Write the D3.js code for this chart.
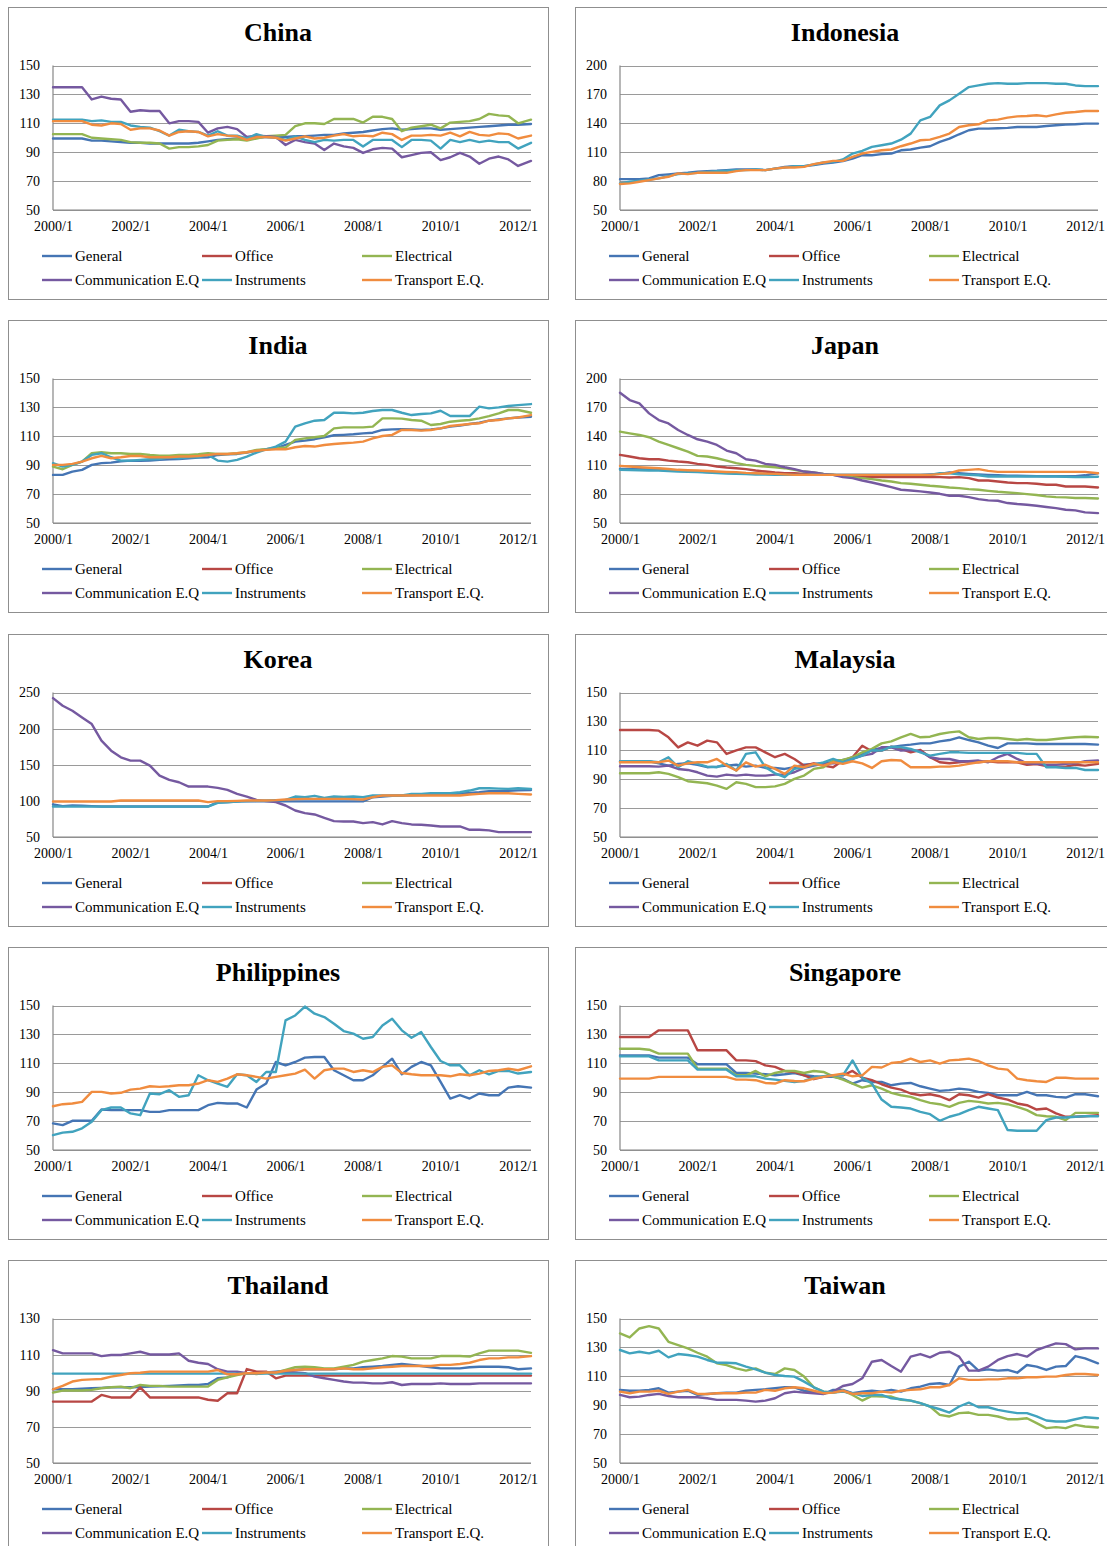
<!DOCTYPE html>
<html>
<head>
<meta charset="utf-8">
<script src="https://cdn.jsdelivr.net/npm/d3@7"></script>
<style>
  body { margin: 0; background: #fff; }
  svg { display: block; }
</style>
</head>
<body>
<svg id="chart" width="1107" height="1546"></svg>
<script>
// Series legend names and colours (same order in every panel)
const seriesNames = ["General", "Office", "Electrical", "Communication E.Q", "Instruments", "Transport E.Q."];
const seriesColors = ["#4575B4", "#B84744", "#93B552", "#7559A0", "#41A3BE", "#F08C3F"];

// Month index since 2000/1 for each sampled value (quarterly, last one 2012/5)
const sampleMonths = d3.range(0, 145, 3).concat([148]);
const tickMonths = [0, 24, 48, 72, 96, 120, 144];
const tickLabels = ["2000/1", "2002/1", "2004/1", "2006/1", "2008/1", "2010/1", "2012/1"];

// Y tick values
const ticks50to150 = [50, 70, 90, 110, 130, 150];
const ticks50to200 = [50, 80, 110, 140, 170, 200];
const ticks50to250 = [50, 100, 150, 200, 250];
const ticks50to130 = [50, 70, 90, 110, 130];

// ---- China ----
const chinaGeneral = [99.5,99.5,99.5,99.5,98,98,97.5,97,96.5,96.5,96,96,96,96,96,96.5,97.5,98.5,99,99.5,100,100,100.5,100.5,100.5,101,101,101.5,102,102,103,103.5,104,105,106,106.5,105.5,106,106.5,106.5,105.5,106,106.5,107,107.5,108,108.5,109,109,109.5];
const chinaElectrical = [102.5,102.5,102.5,102.5,100,99.5,99,98.5,97,96.5,96.5,96,92.5,93.5,93.5,94,95,98,98.5,99,98,99.5,101,101.5,102,108,110,110,109.5,113,113,113,110.5,114.5,114.5,113,104.5,107,108,109,106.5,110.5,111,111.5,113,116.5,115.5,115,110,112.5];
const chinaComm = [135,135,135,135,126.5,128.5,127,126.5,118,119,118.5,118.5,110,111.5,111.5,111,103.5,106.5,107.5,106,100.5,101.5,101,100.5,95,98.5,97,96,91.5,96,94,93,89.5,92,93,92.5,86.5,88,89.5,90,84.5,86.5,89.5,87,82,85.5,87,85,80.5,84];
const chinaInstr = [112.5,112.5,112.5,112.5,111.5,112,111,111,108.5,107.5,107,104.5,101.5,105.5,104.5,104,101.5,104.5,101.5,101.5,99.5,102.5,100.5,100,98.5,101,98.5,97,98.5,98,98.5,98.5,94,98.5,98.5,98.5,93.5,98.5,98.5,98,92.5,98.5,97,98.5,97,98,97,97,92.5,96.5];
const chinaTransport = [111.5,111.5,111.5,111.5,109,108.5,110,109.5,105.5,106.5,106.5,105,101.5,104,104.5,104,101,102.5,101.5,101,98.5,100.5,100.5,100,98,99.5,101,99.5,100,101.5,102.5,101,101.5,101,103.5,102.5,98.5,101.5,101.5,102,101.5,103.5,101,104,102,101.5,103,102.5,99.5,101.5];

// ---- Indonesia ----
const indoGeneral = [82,82,82,82.8,86.2,87,88,88.6,89.7,90.4,90.7,91.4,92,92,92,91.4,93,94.8,95.5,95.5,96.6,98.3,99.3,100.7,103.4,106.9,106.9,108,108.6,112,112.8,114.8,116.2,120.7,124,128.6,132.8,134.5,134.5,134.8,135.2,136.2,136.2,136.2,137.2,138,138.6,139,139.7,139.7];
const indoInstr = [77.6,79.3,80.3,81.7,82.8,85.2,87.2,88,88.6,89.5,90.4,90.7,91.4,91.4,92,91.4,93,94,95.5,95.5,97.2,99.3,100,102.4,108.6,111.4,115.5,117.2,119,123,129.3,143,146.6,158.6,163.8,170.7,177.6,179.3,181,181.7,181,181,181.7,181.7,181.7,181,181,179.3,178.6,178.6];
const indoTransport = [77,77.6,79.3,81,82.8,84.5,88,87.2,88.6,88.6,88.6,88.6,90.4,91.4,91.4,91.4,93,94.1,94.1,94.8,97.6,99.3,101,101,105.2,108.6,110.3,112,112.8,116.2,119,122.4,123,125.9,129.3,136.2,138,139,143,143.8,145.9,147.2,147.6,148.3,147.2,149.3,151,151.7,152.8,152.8];

// ---- India ----
const indiaGeneral = [83.3,83.3,85.6,86.8,90.2,91.4,91.8,92.7,93.2,93,93.2,93.7,94.1,94.3,94.8,95.3,95.5,97.1,97.6,97.8,98.7,100,101,101.7,104,106.3,107,108,109.3,110.7,111,111.4,112,112.5,114.4,114.8,115,114.8,114.4,114.8,115.5,116.7,117.4,118.5,119.4,120.8,121.7,122.4,123,123.5];
const indiaElectrical = [89,87.2,90.2,92.5,98.3,99,98.3,98.3,97.8,97.8,97.1,96.6,96.6,97.1,97.1,97.6,98.3,97.8,97.8,98.3,99,100.6,101,101.7,102.2,107.5,108.6,109.3,110.2,115.5,116.2,116.2,116.2,116.7,122.4,122.4,122.2,121.3,120.8,117.8,118.5,120.1,120.8,121.3,122.4,124,125.9,128.2,128.2,126.3];
const indiaInstr = [91.4,89,90.2,92.5,97.1,98.3,95.5,93.2,93.2,93.7,94.1,94.3,95.5,94.8,95.5,95.5,97.1,93.2,92.5,93.7,96,98.7,101,102.9,106.3,116.7,119,120.8,121.3,126.3,126.3,125.9,126.3,127.5,128.2,128.2,126.3,124.7,125.4,125.9,127.7,124,124,124,130.5,129.3,130,131,131.6,132.3];
const indiaTransport = [90.2,90.2,90.9,92.5,94.8,96.4,94.8,95.5,96.4,96.4,95.5,95.5,95.5,96,96,96.4,97.1,97.8,97.8,98.3,99,100,100.6,101,101,102.4,103.3,102.9,104,104.7,105.2,105.6,106.3,108.6,110.2,111,114.4,114.4,113.9,114.4,115.5,117.1,117.8,118.5,119,120.8,121.3,122.4,123,124.7];

// ---- Japan ----
const japanGeneral = [106.2,106,105.9,105.5,105.2,104.8,104.3,103.8,103.4,103,102.5,102,101.7,101.5,101.2,101,101,100.6,100.3,100,100,100,100,100,100,100,100,100,100,100,100,100,100.5,101,102.4,101.7,101,100.5,100,99.5,99,99,98.8,98.7,98.5,98.5,98.5,98.5,99.5,101.7];
const japanOffice = [120.7,119,117.2,116.2,116.2,114.8,113.8,113.1,111.4,110.3,108.6,107.6,106.9,105.9,104.5,103.4,102.4,101.7,101.7,101,100.7,100,100,99,98.3,98.3,97.6,97.6,97.6,97.6,97.6,97.6,97.6,97.6,97.2,97.6,96.6,94.1,94.1,93.1,92,91.4,91.4,90.7,89.7,89.7,87.9,87.9,87.9,86.9];
const japanElectrical = [144.8,143.1,141.4,139,134.5,131,127.6,124.1,119.7,119,117.2,114.8,112.1,110.3,109.3,108.6,107.9,106.9,105.2,103.4,102.4,101,100,99,97.6,96.6,95.5,94.1,93.1,91.4,90.7,89.7,88.6,87.9,86.9,86.2,85.2,84.5,83.4,82.4,81.7,81,80,79,77.6,76.9,76.6,75.9,75.9,75.5];
const japanComm = [185.2,177.6,174.1,163.8,156.9,153.4,146.6,141.4,136.9,134.5,131,125.2,122.4,116.2,114.8,111.4,110.3,107.9,105.9,103.4,102.4,101,100,97.6,96.6,94.1,92,89.7,87.2,84.5,83.8,82.8,81.7,80.3,78.3,78.3,76.9,74.8,73.5,73.1,70.7,69.7,69,67.9,66.6,65.5,63.8,63.1,61,60.3];
const japanInstr = [105.2,105,104.8,104.5,104.5,104,103.5,103.2,102.8,102.3,101.8,101.4,101,100.7,100.4,100.2,100,100,100,100,100,100,100,100,100,100,100,100,100,100,100,100,100,101.7,101.7,100.5,100,99.5,98.3,98.3,98.3,98.3,98.3,98.3,98.3,98.3,98,97.6,97.6,98];
const japanTransport = [109.3,108.6,107.9,107.4,106.9,106,105.2,104.8,104.5,104,103.4,103,102.8,102,101.7,101.3,101,100.5,100,100,100,100,100,100,100,100,100,100,100,100,100,100,100,100.7,101.7,104.5,105.2,105.9,104.1,103.1,103.1,103.1,103.1,103.1,103.1,103.1,103.1,103.1,103.1,101.7];

// ---- Korea ----
const koreaGeneral = [95,92.7,93.6,93.2,92.7,92.2,92.2,92.2,92.2,92.2,92.2,92.2,92.2,92.2,92.2,92.2,92.2,98.2,98.5,99,99.6,99.3,99.3,99.3,99.3,99.3,99.3,99.3,99.3,99.3,99.3,99.3,99.3,105,106,107,107.4,107.8,108.2,108.5,108.8,109.5,110,111,112,113.4,113.4,114,114.5,115];
const koreaComm = [242.2,231.6,224.7,215.5,206.3,183.3,169.5,160.3,155.7,155.7,148.8,135,129,125.8,119.8,119.8,119.8,118,115.2,109.7,106,101.4,99.6,98.2,93.6,86.7,83,81.2,76.6,72,71.5,71.5,69.2,70.6,67.4,72,69.2,67.4,67,66,64.6,64.6,64.6,60,60,59.1,56.8,56.8,56.8,56.8];
const koreaInstr = [92.2,92,92,92,92,92,92,92,92,92,92,92,92,92,92,92,92,97.3,98,99,99.6,100,100.5,101,101.4,106,105,107,104,106,105.5,106,105,107.4,107.4,107.4,107.4,109.7,109.7,110.5,110.5,110.5,112,114.3,117.5,117.5,117,116.6,117.5,116.6];
const koreaTransport = [99.1,99.1,99.1,99.1,99.1,99.1,99.1,100.5,100.5,100.5,100.5,100.5,100.5,100.5,100.5,100.5,98.2,99.6,99.6,100,100.5,100.5,100.5,101,101.9,102.4,102.8,102.8,102.8,102.8,102.8,102.4,101.9,105.1,107.4,107.4,107.4,107.4,107.4,107.4,107.4,107.4,107.4,108.8,109.7,110.5,110.6,110.6,109.7,108.8];

// ---- Malaysia ----
const malayGeneral = [102.4,102.4,102.4,102.4,101,99.4,100.6,101,100,98.3,98.7,99.4,100,98.7,99.4,97.8,97.8,97.1,98.3,100,100.6,101,101.7,103.3,104,107.5,110.2,111.6,112.1,113.2,113.9,114.8,114.8,116.2,117.1,119,117.1,115.5,113.2,111.6,114.8,114.8,114.8,114.4,114.4,114.4,114.4,114.4,114.4,113.9];
const malayOffice = [124,124,124,124,123.6,119,112,115.5,113.2,116.7,115.5,107.5,110,112,112,108.6,105.2,107.5,104,99.4,101,99.4,98.3,102.9,105.2,113.2,109.3,109.8,112.5,111,108.6,110.2,105.2,101.7,101,101.7,102.4,101.7,102.4,101.7,101.7,101.7,100,100.4,99,98.7,98.7,100,99.4,100.6];
const malayElectrical = [94.1,94.1,94.1,94.1,94.8,93.7,91.4,88.6,87.9,87.2,85.6,83.3,87.9,86.8,84.5,84.5,85,86.8,90.2,92.5,97.1,98.3,102.9,103.3,105.2,108.6,111,114.8,116.2,119,121.3,119,119.4,121.3,122.4,123.1,119,117.8,118.5,118.5,117.8,117.1,117.8,117.1,117.1,117.8,118.5,119,119.4,119];
const malayComm = [99,99,99,99,98.7,99.4,97.1,96.4,94.8,92.5,91.8,93.2,92.5,93.2,92.5,92.5,93.2,93.2,94.8,97.8,99.4,100.6,101,101.7,104,106.3,107.5,112.1,112.1,109.8,110.2,109.3,105.2,104,104,102.4,102.4,102.9,101.7,105.2,107.5,104,101,100.6,100,100,100.6,101,102.4,102.9];
const malayInstr = [102.4,102.4,102.4,102.4,101.7,105.2,98.3,102.4,100.6,98.7,98.3,100.6,96,107.5,108.6,98.3,94.1,91.4,97.1,98.3,100,101.7,104,101.7,104,106.3,110,109.8,112.5,112.1,111,108.6,106.3,107.5,108.6,108.6,108.2,108.2,108.2,108.2,108.2,108.2,107.5,107.5,98.3,98.3,97.8,97.8,96.4,96.4];
const malayTransport = [101.7,101.7,101.7,101.7,101.7,102.9,99.4,101,101.7,101.7,104,99.4,96,101.7,98.7,100,97.1,93.7,99.4,98.3,100.6,99.4,101.7,100.6,102.4,101,97.8,102.4,103.3,102.9,98.3,98.3,98.3,98.7,98.7,99.4,100.6,101.7,102.4,102.4,102.4,101.7,101.7,101.7,101.7,101.7,101.7,101.7,101.7,101.7];

// ---- Philippines ----
const philGeneral = [68.4,67.2,70.2,70.2,70.2,78,77.6,77.6,77.6,77.6,76.4,76.4,77.6,77.6,77.6,77.6,81,82.6,82.2,82.2,79.4,91.8,96,110.9,108.6,110.9,113.9,114.4,114.4,105.2,101.7,98.3,98.3,101.7,107.5,113.2,102.4,107.5,110.9,108.6,97.1,85.6,87.9,85.6,89.1,87.9,87.9,93.2,94.1,93.2];
const philInstr = [60.3,62,62.6,65,69.5,77.6,79.4,79.4,75.3,74.1,89.1,88.6,91.4,86.8,87.9,101.7,98.3,96,93.7,102.4,101.7,97.1,104,104,139.7,143.1,149.3,144.3,142,137.4,132.3,130.5,127,128.2,136.2,140.8,132.8,127.7,131.6,121.3,111.6,108.6,108.6,101.7,105.2,102.4,104.7,104.7,102.9,104];
const philTransport = [80.3,81.7,82.2,83.3,90.2,90.2,89.1,89.6,91.8,92.5,94.1,93.7,94.1,94.8,94.8,96,98.3,97.1,99.4,102.4,101.7,100.6,99.4,100.6,101.7,102.9,105.6,99.4,105.2,106.3,106.3,104,105.2,104,107.5,108.6,103.3,102.4,101.7,101.7,101.7,101,102.4,101.7,102.9,104.7,105.2,106.3,105.2,107.9];

// ---- Singapore ----
const singGeneral = [115.5,115.5,115.5,115.5,113.9,113.9,113.9,113.9,109.3,109.3,109.3,109.3,103.3,103.3,102.9,102.4,101.7,102.4,103.3,101.7,101,100.6,100.6,99.4,96,98.3,97.1,97.1,94.8,95.9,96.4,94.1,92.5,90.9,91.4,92.5,91.8,90.2,89.5,87.9,87.9,87.9,90.2,87.9,87.9,86.8,86.3,88.6,88.6,87.2];
const singOffice = [128.2,128.2,128.2,128.2,132.8,132.8,132.8,132.8,119,119,119,119,112,112,111.5,108.6,107.5,104.7,104,101.7,99,100.6,101.7,101.7,104.7,100,98.3,95.5,93.2,91.8,89.1,87.9,88.6,87.2,84.5,88.6,87.9,86.3,88.6,86.3,84.9,82.2,81,78,78.7,75.3,73,73,73.4,74.1];
const singElectrical = [120.1,120.1,120.1,119.4,116.7,116.7,116.7,116.7,106.3,106.3,106.3,106.3,101.7,101.7,104.7,101,103.3,104.7,104.7,103.3,104.7,104,101,98.7,96,93.2,94.8,92.5,89.5,87.9,86.8,84.5,82.6,81.7,79.9,82.6,84,83.3,82.2,82.6,81.7,79.9,77.6,74.1,73.4,73,70.7,75.7,75.7,75.7];
const singInstr = [114.8,114.8,114.8,114.8,112,112,112,112,105.6,105.6,105.6,105.6,101,101,101,99.4,98.7,97.8,97.1,97.8,100,101,101.7,101.7,112,100,96,84.9,79.9,79.4,78.7,76.4,74.8,70.2,73,74.8,77.6,79.9,78.7,77.6,63.8,63.3,63.3,63.3,70.7,72.5,72.5,73,73.4,73.4];
const singTransport = [99.4,99.4,99.4,99.4,100.6,100.6,100.6,100.6,100.6,100.6,100.6,100.6,98.7,98.7,98.3,96.4,96,98.3,97.8,97.6,99.4,100.6,101.7,102.9,101,101.7,107.5,107.1,110.2,110.9,113.2,110.9,112,109.8,112,112.5,113.2,111.6,108.6,106.3,105.6,99.4,98.3,97.6,97.1,100,100,99.4,99.4,99.4];

// ---- Thailand ----
const thaiGeneral = [90.8,90.8,90.8,91.1,91.4,91.6,91.9,91.9,91.9,92.1,92.3,92.5,92.7,92.9,93.2,93.2,93.7,96.9,97.4,99.7,99.7,99.7,100.1,100.6,101.1,101.5,101.9,101.9,101.9,101.9,102.4,102.4,103,103.3,103.7,104.3,104.8,104.3,103.7,103,102.4,102.4,102.4,103,103.3,103.3,103.3,103,101.9,102.4];
const thaiOffice = [84,84,84,84,84,87.7,86.3,86.3,86.3,91.9,86.3,86.3,86.3,86.3,86.3,86.3,85,84.5,88.6,88.6,102,100.6,100.6,96.9,98.4,98.4,98.4,98.4,98.4,98.4,98.4,98.4,98.4,98.4,98.4,98.4,98.4,98.4,98.4,98.4,98.4,98.4,98.4,98.4,98.4,98.4,98.4,98.4,98.4,98.4];
const thaiElectrical = [89,90.1,90.1,90.1,90.5,91.4,91.9,92.3,91.4,93.2,92.7,92.7,92.3,92.3,92.3,92.3,92.3,96,97.4,98.7,99.7,99.3,100,100,101.5,103,103.3,103,102.4,102.4,103.3,104.3,106.1,107,107.9,109.2,108.9,107.9,107.9,107.9,109.2,109.2,109.2,108.9,110.7,112.2,112.2,112.2,112.2,111];
const thaiComm = [112.5,110.7,110.7,110.7,110.7,109.2,109.8,109.8,110.7,111.6,110.1,110.1,110.1,110.7,106.6,105.5,104.8,101.9,100.6,100.6,99.7,99.7,100.1,100.1,100.6,100.1,99.7,97.8,96.9,96,95.1,94.5,94.5,94.1,94.1,94.7,93.2,93.7,93.7,93.7,94.1,93.7,93.7,93.7,94.1,94.1,94.1,94.1,94.1,94.1];
const thaiInstr = [99.5,99.5,99.5,99.5,99.5,99.5,99.5,99.5,99.5,99.5,99.5,99.5,99.5,99.5,99.5,99.5,99.5,99.5,99.5,99.5,99.5,99.5,99.5,99.5,99.5,99.5,99.5,99.5,99.5,99.5,99.5,99.5,99.5,99.5,99.5,99.5,99.5,99.5,99.5,99.5,99.5,99.5,99.5,99.5,99.5,99.5,99.5,99.5,99.5,99.5];
const thaiTransport = [90.8,92.7,95.1,96,96.3,96.5,97.8,98.7,99.7,100,100.6,100.6,100.6,100.6,100.6,100.6,100.6,101.5,99.1,99.1,99.7,99.7,100.1,100.1,101.1,101.5,101.9,101.9,101.9,101.9,102.4,101.9,101.9,102.4,103,103.3,103.7,103.7,103.7,103.7,104.3,104.3,104.8,105.5,107,107.9,107.9,108.5,108.5,109.2];

// ---- Taiwan ----
const taiwanGeneral = [100.6,100,100,100.6,101.7,98.7,99.4,100,97.1,97.8,98.3,98.7,98.7,100,100.6,101,101.7,102.4,102.4,100,99.4,97.8,100.6,100.6,98.3,99.4,100,99.4,100.6,99.4,101.7,102.9,104.7,105.2,104,116.7,120.1,113.9,114.8,113.9,114.4,112.5,117.8,116.7,114.4,116.7,117.1,124,122.4,119];
const taiwanElectrical = [139.7,136.9,143.1,144.7,143.1,133.9,131.6,129.3,126.3,123.6,119,117.8,115.5,113.9,115.5,112.5,111.6,115.5,114.4,109.8,102.4,99.4,98.7,100,97.1,93.2,96.4,96,96,93.7,93.2,91.4,89.1,83.3,82.2,84.5,84.9,83.3,83.3,82.2,80.3,80.3,81,77.6,74.1,74.8,74.1,76.4,75.3,74.6];
const taiwanComm = [97.1,95.5,95.9,97.1,97.8,96.4,95.5,95.5,95.5,94.8,93.7,93.7,93.7,93.2,92.5,93.2,94.8,98.3,99.4,98.7,98.3,97.8,99.4,103.3,104.7,108.6,120.1,121.3,117.1,113.2,123.6,125.4,123.1,126.3,127,123.6,113.9,113.9,116.7,121.3,124,125.4,123.6,128.2,130.5,132.8,132.3,128.6,129.3,129.3];
const taiwanInstr = [128.2,125.9,127,125.9,127.7,123.1,125.4,124.7,123.6,121.3,119.4,119.4,119,116.7,114.8,112.5,110.9,110.2,109.8,106.3,102.4,99.4,98.7,99.4,98.3,96.4,97.1,97.1,94.8,94.1,93.2,91.4,89.1,87.2,84.9,89.1,91.8,88.6,88.6,86.8,85.6,84.5,84.5,82.2,79.4,78.7,78.7,80.3,81.7,81];
const taiwanTransport = [99.4,98.3,99.4,99.4,100,97.8,99.4,100.6,97.8,97.8,98.3,98.3,98.3,98.7,98.7,100.6,100,101.7,102.4,101.7,100,98.3,98.7,100,97.8,98.3,98.3,99.4,98.7,100,100.6,101,102.4,102.4,104,108.6,107.5,107.5,107.9,107.9,108.6,108.6,109.3,109.3,109.8,109.8,110.9,111.6,111.6,110.9];

// Panel table: series slots follow seriesNames; null = no visible line
const panels = [
  { title: "China",       ticks: ticks50to150, series: [chinaGeneral, null, chinaElectrical, chinaComm, chinaInstr, chinaTransport] },
  { title: "Indonesia",   ticks: ticks50to200, series: [indoGeneral, null, null, null, indoInstr, indoTransport] },
  { title: "India",       ticks: ticks50to150, series: [indiaGeneral, null, indiaElectrical, null, indiaInstr, indiaTransport] },
  { title: "Japan",       ticks: ticks50to200, series: [japanGeneral, japanOffice, japanElectrical, japanComm, japanInstr, japanTransport] },
  { title: "Korea",       ticks: ticks50to250, series: [koreaGeneral, null, null, koreaComm, koreaInstr, koreaTransport] },
  { title: "Malaysia",    ticks: ticks50to150, series: [malayGeneral, malayOffice, malayElectrical, malayComm, malayInstr, malayTransport] },
  { title: "Philippines", ticks: ticks50to150, series: [philGeneral, null, null, null, philInstr, philTransport] },
  { title: "Singapore",   ticks: ticks50to150, series: [singGeneral, singOffice, singElectrical, null, singInstr, singTransport] },
  { title: "Thailand",    ticks: ticks50to130, series: [thaiGeneral, thaiOffice, thaiElectrical, thaiComm, thaiInstr, thaiTransport] },
  { title: "Taiwan",      ticks: ticks50to150, series: [taiwanGeneral, null, taiwanElectrical, taiwanComm, taiwanInstr, taiwanTransport] }
];

// ---- layout ----
const FONT = "'Liberation Serif', 'Times New Roman', serif";
const panelW = 540, panelH = 292;
const colX = [8, 575];
const rowY0 = 7, rowStep = 313.3;
const plot = { left: 45, right: 523, top: 58.5, bottom: 203 };
const legendCols = [34, 194, 354];
const legendRows = [249, 273];

const svg = d3.select("#chart");
svg.append("rect").attr("width", 1107).attr("height", 1546).attr("fill", "#fff");

panels.forEach((p, i) => {
  const col = i % 2, row = Math.floor(i / 2);
  const g = svg.append("g")
    .attr("transform", `translate(${colX[col]},${Math.round(rowY0 + row * rowStep)})`);

  // panel frame
  g.append("rect")
    .attr("x", 0.5).attr("y", 0.5)
    .attr("width", panelW).attr("height", panelH)
    .attr("fill", "#fff").attr("stroke", "#8f8f8f").attr("stroke-width", 1);

  // title
  g.append("text")
    .attr("x", panelW / 2).attr("y", 34)
    .attr("text-anchor", "middle")
    .attr("font-family", FONT).attr("font-size", 26).attr("font-weight", "bold")
    .attr("fill", "#000")
    .text(p.title);

  const x = d3.scaleLinear().domain([0, 148]).range([plot.left, plot.right]);
  const y = d3.scaleLinear().domain(d3.extent(p.ticks)).range([plot.bottom, plot.top]);

  // horizontal gridlines
  g.append("g")
    .attr("transform", `translate(${plot.left},0)`)
    .call(d3.axisLeft(y).tickValues(p.ticks).tickSize(-(plot.right - plot.left)).tickFormat(""))
    .call(a => a.select(".domain").remove())
    .call(a => a.selectAll("line").attr("stroke", "#9a9a9a").attr("stroke-width", 1)
      .attr("shape-rendering", "crispEdges"));

  // y tick labels
  g.append("g")
    .attr("transform", `translate(${plot.left},0)`)
    .call(d3.axisLeft(y).tickValues(p.ticks).tickSize(0).tickPadding(13).tickFormat(d3.format("d")))
    .call(a => a.select(".domain").remove())
    .call(a => a.selectAll("text").attr("font-family", FONT).attr("font-size", 14).attr("fill", "#000"));

  // x tick labels
  g.append("g")
    .attr("transform", `translate(0,${plot.bottom})`)
    .call(d3.axisBottom(x).tickValues(tickMonths).tickSize(0).tickPadding(11.5)
      .tickFormat((d, k) => tickLabels[k]))
    .call(a => a.select(".domain").remove())
    .call(a => a.selectAll("text").attr("font-family", FONT).attr("font-size", 14).attr("fill", "#000"));

  // axis lines
  g.append("line")
    .attr("x1", x(0)).attr("x2", x(0)).attr("y1", plot.top).attr("y2", plot.bottom)
    .attr("stroke", "#868686").attr("stroke-width", 1.2);
  g.append("line")
    .attr("x1", x(0)).attr("x2", x(148)).attr("y1", y(p.ticks[0])).attr("y2", y(p.ticks[0]))
    .attr("stroke", "#868686").attr("stroke-width", 1.2);

  // series lines
  const line = d3.line()
    .x((d, k) => x(sampleMonths[k]))
    .y(d => y(d));
  p.series.forEach((vals, s) => {
    if (!vals) return;
    g.append("path")
      .datum(vals)
      .attr("d", line)
      .attr("fill", "none")
      .attr("stroke", seriesColors[s])
      .attr("stroke-width", 2.4)
      .attr("stroke-linejoin", "round")
      .attr("stroke-linecap", "round");
  });

  // legend
  seriesNames.forEach((name, s) => {
    const lx = legendCols[s % 3], ly = legendRows[Math.floor(s / 3)];
    g.append("line")
      .attr("x1", lx).attr("x2", lx + 30).attr("y1", ly).attr("y2", ly)
      .attr("stroke", seriesColors[s]).attr("stroke-width", 2.4);
    g.append("text")
      .attr("x", lx + 33).attr("y", ly + 5)
      .attr("font-family", FONT).attr("font-size", 15).attr("fill", "#000")
      .text(name);
  });
});
</script>
</body>
</html>
